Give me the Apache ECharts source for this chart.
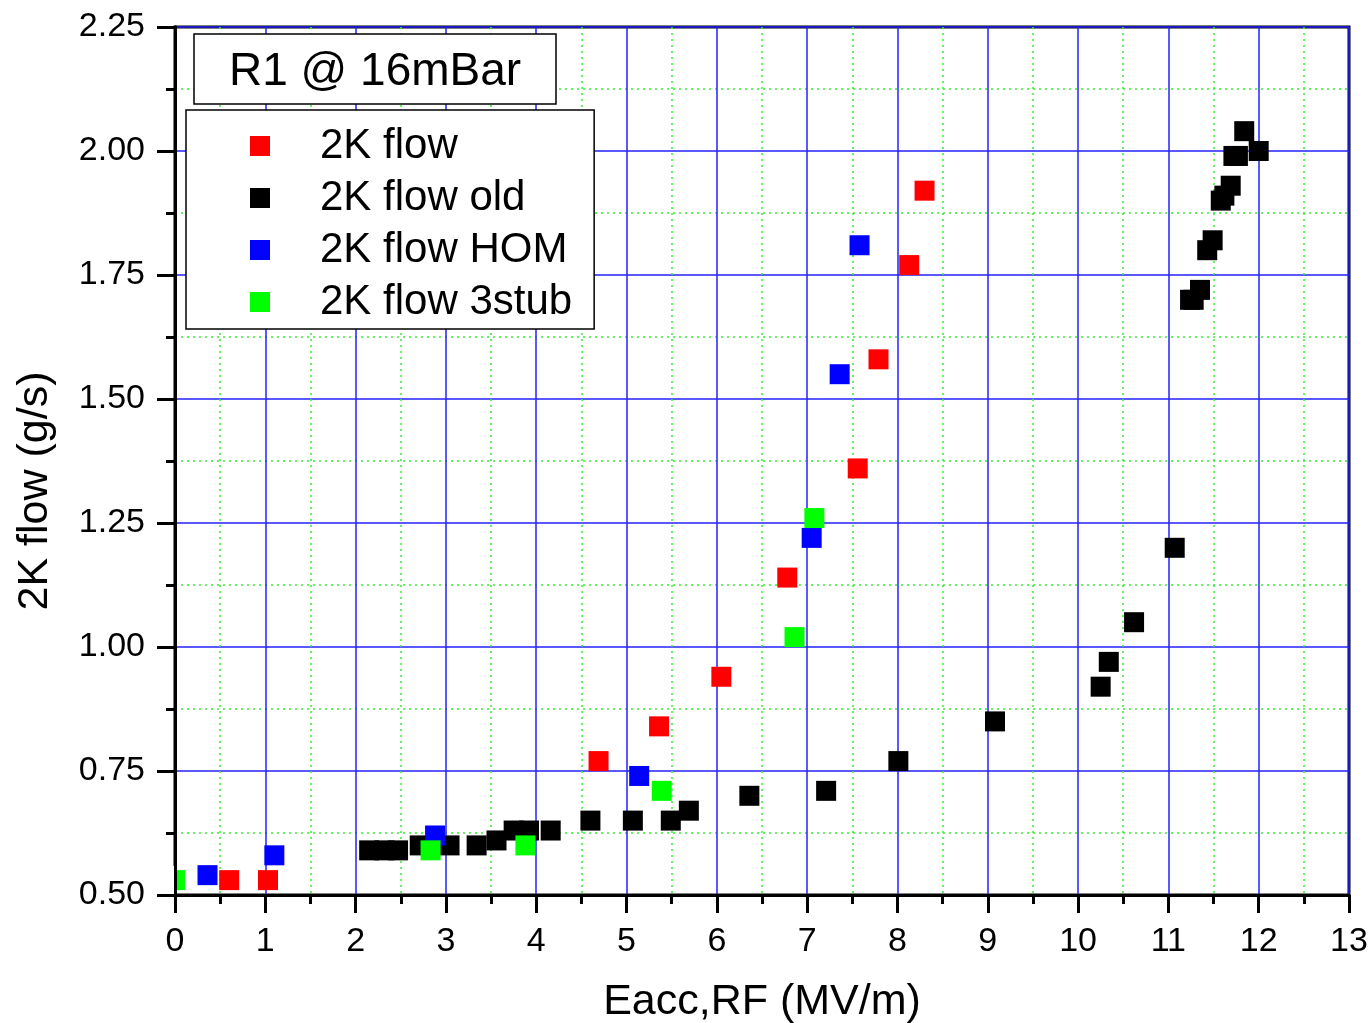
<!DOCTYPE html>
<html>
<head>
<meta charset="utf-8">
<script src="https://cdn.jsdelivr.net/npm/echarts@6/dist/echarts.min.js"></script>
<style>
  html, body { margin: 0; padding: 0; background: #fff; }
  #chart { width: 1368px; height: 1023px; }
</style>
</head>
<body>
<div id="chart"></div>
<script>
// 2K helium flow versus accelerating gradient, R1 at 16 mbar
const seriesNames = ['2K flow', '2K flow old', '2K flow HOM', '2K flow 3stub'];
const seriesColors = ['#ff0000', '#000000', '#0000ff', '#00ff00'];

const flowX = [0.60, 1.03, 4.69, 5.36, 6.05, 6.78, 7.56, 7.79, 8.13, 8.30];
const flowY = [0.53, 0.53, 0.77, 0.84, 0.94, 1.14, 1.36, 1.58, 1.77, 1.92];

const oldX = [2.15, 2.32, 2.47, 2.71, 3.04, 3.34, 3.56, 3.75, 3.92, 4.16,
              4.60, 5.07, 5.49, 5.69, 6.36, 7.21, 8.01, 9.08, 10.25, 10.34,
              10.62, 11.07, 11.24, 11.28, 11.35, 11.43, 11.49, 11.58, 11.62, 11.69,
              11.72, 11.77, 11.84, 12.00];
const oldY = [0.59, 0.59, 0.59, 0.60, 0.60, 0.60, 0.61, 0.63, 0.63, 0.63,
              0.65, 0.65, 0.65, 0.67, 0.70, 0.71, 0.77, 0.85, 0.92, 0.97,
              1.05, 1.20, 1.70, 1.70, 1.72, 1.80, 1.82, 1.90, 1.91, 1.93,
              1.99, 1.99, 2.04, 2.00];

const homX = [0.36, 1.10, 2.88, 5.14, 7.05, 7.36, 7.58];
const homY = [0.54, 0.58, 0.62, 0.74, 1.22, 1.55, 1.81];

const stubX = [0.00, 2.83, 3.88, 5.39, 6.86, 7.08];
const stubY = [0.53, 0.59, 0.60, 0.71, 1.02, 1.26];

const xTicks = { min: 0, max: 13, interval: 1 };
const yTicks = { min: 0.50, max: 2.25, interval: 0.25 };

const FONT = '"Liberation Sans", Arial, sans-serif';

function pairs(xs, ys) { return xs.map((x, i) => [x, ys[i]]); }
const seriesData = [pairs(flowX, flowY), pairs(oldX, oldY), pairs(homX, homY), pairs(stubX, stubY)];

const majorGrid = { show: true, lineStyle: { color: '#2222ff', width: 1.5, type: 'solid' } };
const minorGrid = { show: true, lineStyle: { color: '#33ee33', width: 1.5, type: [2, 4] } };

const chart = echarts.init(document.getElementById('chart'), null, { renderer: 'canvas' });

chart.setOption({
  animation: false,
  backgroundColor: '#ffffff',
  textStyle: { fontFamily: FONT },
  title: {
    text: 'R1 @ 16mBar',
    left: 194,
    top: 34,
    padding: [13, 35, 7, 35],
    borderColor: '#000',
    borderWidth: 1.5,
    backgroundColor: '#fff',
    textStyle: { fontFamily: FONT, fontSize: 46, fontWeight: 'normal', color: '#000', lineHeight: 50 }
  },
  legend: {
    orient: 'vertical',
    left: 186,
    top: 110,
    padding: [15, 22, 6, 64],
    itemWidth: 20,
    itemHeight: 20,
    itemGap: 10,
    selectedMode: false,
    borderColor: '#000',
    borderWidth: 1.5,
    backgroundColor: '#fff',
    icon: 'rect',
    textStyle: { fontFamily: FONT, fontSize: 42, color: '#000', padding: [0, 0, 0, 45] },
    data: seriesNames
  },
  grid: {
    left: 175, right: 19, top: 27, bottom: 128,
    outerBoundsMode: 'none',
    containLabel: false,
    show: true, borderColor: '#000', borderWidth: 3, backgroundColor: 'transparent'
  },
  xAxis: {
    type: 'value',
    min: xTicks.min, max: xTicks.max, interval: xTicks.interval,
    name: 'Eacc,RF (MV/m)',
    nameLocation: 'middle',
    nameGap: 86,
    nameTextStyle: { fontFamily: FONT, fontSize: 43, color: '#000' },
    axisLine: { show: true, lineStyle: { color: '#000', width: 3 } },
    axisTick: { show: true, length: 18, lineStyle: { color: '#000', width: 3 } },
    minorTick: { show: true, splitNumber: 2, length: 9, lineStyle: { color: '#000', width: 3 } },
    axisLabel: { fontFamily: FONT, fontSize: 34, color: '#000', margin: 30 },
    splitLine: majorGrid,
    minorSplitLine: minorGrid
  },
  yAxis: [{
    type: 'value',
    min: yTicks.min, max: yTicks.max, interval: yTicks.interval,
    name: '2K flow (g/s)',
    nameLocation: 'middle',
    nameGap: 118,
    nameTextStyle: { fontFamily: FONT, fontSize: 43, color: '#000', padding: [0, 60, 0, 0] },
    axisLine: { show: true, lineStyle: { color: '#000', width: 3 } },
    axisTick: { show: true, length: 18, lineStyle: { color: '#000', width: 3 } },
    minorTick: { show: true, splitNumber: 2, length: 9, lineStyle: { color: '#000', width: 3 } },
    axisLabel: {
      fontFamily: FONT, fontSize: 34, color: '#000', margin: 30,
      formatter: v => v.toFixed(2)
    },
    splitLine: majorGrid,
    minorSplitLine: minorGrid
  }, {
    // left frame line drawn over the markers so points at Eacc = 0 sit inside the frame
    type: 'value',
    position: 'left',
    offset: 0,
    z: 4,
    min: yTicks.min, max: yTicks.max, interval: yTicks.interval,
    axisLine: { show: true, lineStyle: { color: '#000', width: 3 } },
    axisTick: { show: false },
    axisLabel: { show: false },
    splitLine: { show: false }
  }],
  graphic: [{
    // keeps marker parts left of the frame hidden
    type: 'rect',
    z: 3,
    shape: { x: 150, y: 866, width: 24, height: 28 },
    style: { fill: '#ffffff' }
  }],
  series: seriesNames.map((name, i) => ({
    name: name,
    type: 'scatter',
    symbol: 'rect',
    symbolSize: 20,
    clip: false,
    itemStyle: { color: seriesColors[i], opacity: 1 },
    data: seriesData[i]
  }))
});
</script>
</body>
</html>
